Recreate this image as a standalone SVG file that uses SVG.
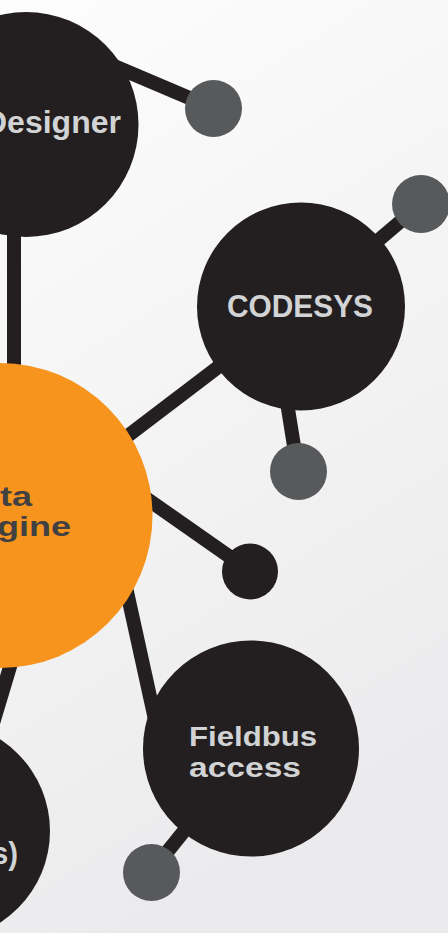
<svg xmlns="http://www.w3.org/2000/svg" width="448" height="933" viewBox="0 0 448 933">
  <defs>
    <linearGradient id="bg" x1="0" y1="0" x2="0.3" y2="1">
      <stop offset="0" stop-color="#fdfdfd"/>
      <stop offset="1" stop-color="#ebebed"/>
    </linearGradient>
    <style>
      .conn { stroke: #231f20; stroke-width: 14; fill: none; }
      .big { fill: #231f20; }
      .dot { fill: #58595b; }
      .hub { fill: #f7941d; }
      .lbl { font-family: "Liberation Sans", "DejaVu Sans", sans-serif; font-weight: bold; font-size: 31px; fill: #d1d3d4; }
      .lbl2 { font-family: "Liberation Sans", "DejaVu Sans", sans-serif; font-weight: bold; font-size: 27px; fill: #d1d3d4; }
      .hublbl { font-family: "Liberation Sans", "DejaVu Sans", sans-serif; font-weight: bold; font-size: 27px; fill: #414042; }
    </style>
  </defs>
  <rect x="0" y="0" width="448" height="933" fill="url(#bg)"/>

  <g id="connectors">
    <line class="conn" x1="100" y1="60" x2="213" y2="108"/>
    <line class="conn" x1="14" y1="200" x2="14" y2="400"/>
    <line class="conn" x1="100" y1="457" x2="301" y2="304"/>
    <line class="conn" x1="301" y1="306" x2="421" y2="204"/>
    <line class="conn" x1="285" y1="390" x2="298" y2="471"/>
    <line class="conn" x1="120" y1="480" x2="250" y2="571"/>
    <line class="conn" x1="120" y1="560" x2="165" y2="765"/>
    <line class="conn" x1="251" y1="748" x2="151" y2="872"/>
    <line class="conn" x1="30" y1="600" x2="-30" y2="800"/>
  </g>

  <g id="designer">
    <circle class="big" cx="26" cy="124.5" r="112.5"/>
    <text class="lbl" x="-16" y="133" textLength="137" lengthAdjust="spacingAndGlyphs">Designer</text>
  </g>
  <g id="dot-designer">
    <circle class="dot" cx="213.5" cy="108.5" r="28.5"/>
  </g>
  <g id="codesys">
    <circle class="big" cx="301" cy="306.5" r="104"/>
    <text class="lbl" x="227" y="317" textLength="146" lengthAdjust="spacingAndGlyphs">CODESYS</text>
  </g>
  <g id="dot-codesys-top">
    <circle class="dot" cx="421" cy="204" r="29"/>
  </g>
  <g id="dot-codesys-bottom">
    <circle class="dot" cx="298.5" cy="471.5" r="28.5"/>
  </g>
  <g id="engine">
    <circle class="hub" cx="0" cy="515.5" r="152.5"/>
    <text class="hublbl" x="0" y="506" textLength="32" lengthAdjust="spacingAndGlyphs">ta</text>
    <text class="hublbl" x="-3" y="536" textLength="74" lengthAdjust="spacingAndGlyphs">gine</text>
  </g>
  <g id="dot-engine">
    <circle class="big" cx="250" cy="571.5" r="28"/>
  </g>
  <g id="fieldbus">
    <circle class="big" cx="251" cy="748.5" r="108"/>
    <text class="lbl2" x="189" y="746" textLength="128" lengthAdjust="spacingAndGlyphs">Fieldbus</text>
    <text class="lbl2" x="189" y="777" textLength="112" lengthAdjust="spacingAndGlyphs">access</text>
  </g>
  <g id="dot-fieldbus">
    <circle class="dot" cx="151.5" cy="872.5" r="28.5"/>
  </g>
  <g id="bottom-left">
    <circle class="big" cx="-59" cy="831" r="109"/>
    <text class="lbl" x="-8" y="864" textLength="26" lengthAdjust="spacingAndGlyphs">s)</text>
  </g>
</svg>
